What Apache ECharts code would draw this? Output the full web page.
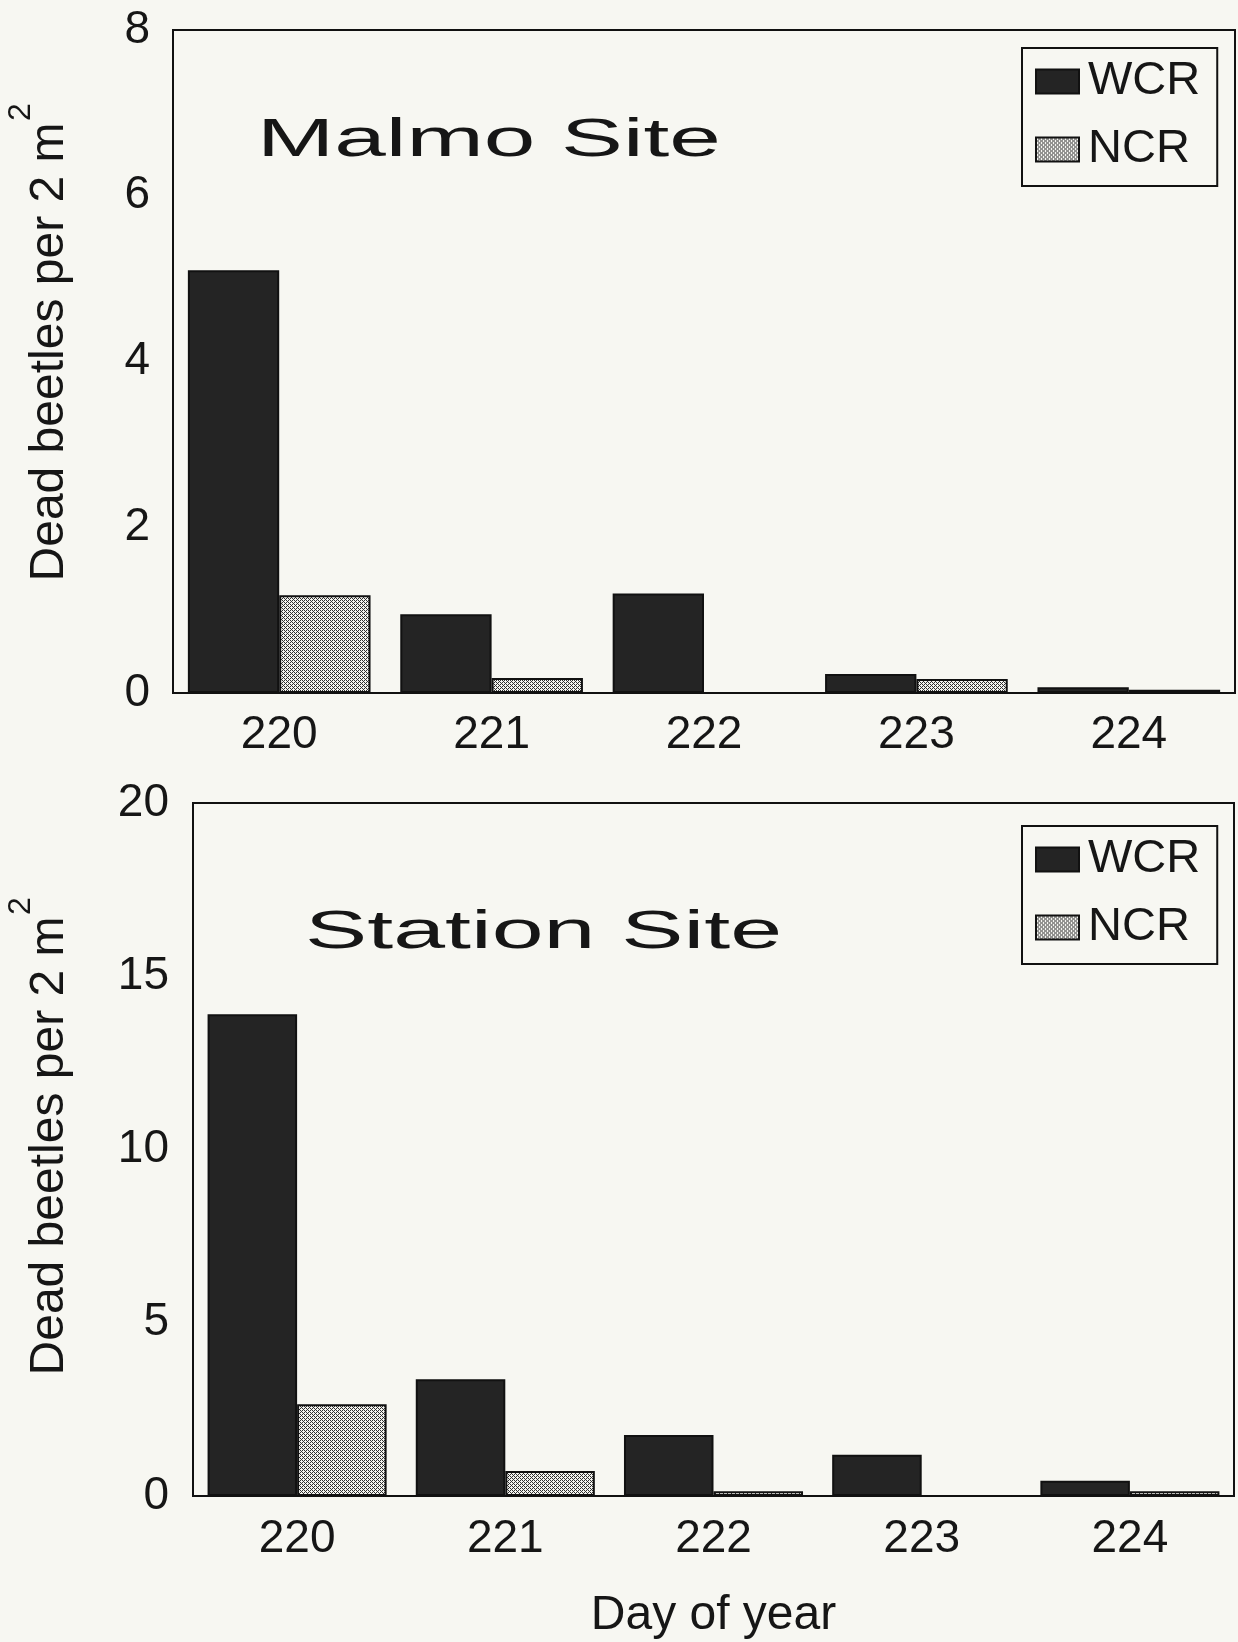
<!DOCTYPE html>
<html>
<head>
<meta charset="utf-8">
<script src="https://cdn.jsdelivr.net/npm/echarts@6/dist/echarts.min.js"></script>
<style>
html,body{margin:0;padding:0;background:#f7f7f2;}
#chart{width:1238px;height:1642px;}
</style>
</head>
<body>
<div id="chart"></div>
<script>
// ---- data ----
const days = ['220', '221', '222', '223', '224'];
const malmoWCR = [5.1, 0.95, 1.2, 0.23, 0.07];
const malmoNCR = [1.18, 0.18, 0, 0.17, 0.04];
const stationWCR = [13.9, 3.37, 1.76, 1.19, 0.44];
const stationNCR = [2.65, 0.72, 0.14, 0, 0.14];
const malmoTicks = {min: 0, max: 8, interval: 2};
const stationTicks = {min: 0, max: 20, interval: 5};
const titles = ['Malmo Site', 'Station Site'];
const yName = 'Dead beetles per 2 m';
const xName = 'Day of year';

// hatch pattern for NCR
const tile = document.createElement('canvas');
tile.width = 4; tile.height = 4;
const tctx = tile.getContext('2d');
tctx.fillStyle = '#f4f4f0';
tctx.fillRect(0, 0, 4, 4);
tctx.fillStyle = '#303030';
for (let x = 0; x < 4; x++) for (let y = 0; y < 4; y++) {
  if ((x + y) % 4 === 0 || (x - y + 4) % 4 === 2) tctx.fillRect(x, y, 1, 1);
}
const hatch = {image: tile, repeat: 'repeat'};

const FONT = '"Liberation Sans", Arial, sans-serif';
const TXT = '#161616';
const chart = echarts.init(document.getElementById('chart'), null, {renderer: 'canvas'});

const wcrStyle = {color: '#242424', borderColor: '#111', borderWidth: 2};
const ncrStyle = {color: hatch, borderColor: '#111', borderWidth: 2};

function legendAt(top) {
  return {
    left: 1022, top: top, orient: 'vertical',
    data: ['WCR', 'NCR'],
    icon: 'rect', itemWidth: 43, itemHeight: 24, itemGap: 21,
    padding: [10, 17, 13, 13],
    borderColor: '#111', borderWidth: 2, backgroundColor: '#f7f7f2',
    textStyle: {fontSize: 47, fontFamily: FONT, color: TXT, lineHeight: 46, padding: [0, 0, 0, 4]},
    selectedMode: false
  };
}

function txt(text, x, y, size, opts) {
  return Object.assign({type: 'text', x: x, y: y, z: 10,
    style: {text: text, font: size + 'px ' + FONT, fill: TXT,
      align: opts.align || 'center', verticalAlign: 'middle',
      textAlign: opts.align || 'center', textVerticalAlign: 'middle'}}, opts.t || {});
}

const option = {
  backgroundColor: '#f7f7f2',
  animation: false,
  grid: [
    {left: 173, top: 30, width: 1062, height: 663, show: true, borderColor: '#111', borderWidth: 2, backgroundColor: 'transparent'},
    {left: 193, top: 803, width: 1041, height: 693, show: true, borderColor: '#111', borderWidth: 2, backgroundColor: 'transparent'}
  ],
  legend: [legendAt(48), legendAt(826)],
  xAxis: [
    {type: 'category', gridIndex: 0, data: days,
     axisLine: {show: true, lineStyle: {color: '#111', width: 2}}, axisTick: {show: false},
     axisLabel: {fontSize: 46, fontFamily: FONT, color: TXT, margin: 19}},
    {type: 'category', gridIndex: 1, data: days,
     axisLine: {show: true, lineStyle: {color: '#111', width: 2}}, axisTick: {show: false},
     axisLabel: {fontSize: 46, fontFamily: FONT, color: TXT, margin: 20},
     name: xName, nameLocation: 'middle', nameGap: 96,
     nameTextStyle: {fontSize: 48, fontFamily: FONT, color: TXT}}
  ],
  yAxis: [
    {type: 'value', gridIndex: 0, min: malmoTicks.min, max: malmoTicks.max, interval: malmoTicks.interval,
     splitLine: {show: false}, axisTick: {show: false},
     axisLine: {show: true, lineStyle: {color: '#111', width: 2}},
     axisLabel: {fontSize: 46, fontFamily: FONT, color: TXT, margin: 23}},
    {type: 'value', gridIndex: 1, min: stationTicks.min, max: stationTicks.max, interval: stationTicks.interval,
     splitLine: {show: false}, axisTick: {show: false},
     axisLine: {show: true, lineStyle: {color: '#111', width: 2}},
     axisLabel: {fontSize: 46, fontFamily: FONT, color: TXT, margin: 24}}
  ],
  series: [
    {name: 'WCR', type: 'bar', xAxisIndex: 0, yAxisIndex: 0, data: malmoWCR, itemStyle: wcrStyle, barGap: '0%', barCategoryGap: '14%'},
    {name: 'NCR', type: 'bar', xAxisIndex: 0, yAxisIndex: 0, data: malmoNCR, itemStyle: ncrStyle, barGap: '0%', barCategoryGap: '14%'},
    {name: 'WCR', type: 'bar', xAxisIndex: 1, yAxisIndex: 1, data: stationWCR, itemStyle: wcrStyle, barGap: '0%', barCategoryGap: '14%'},
    {name: 'NCR', type: 'bar', xAxisIndex: 1, yAxisIndex: 1, data: stationNCR, itemStyle: ncrStyle, barGap: '0%', barCategoryGap: '14%'}
  ],
  graphic: [
    txt(titles[0], 257, 141, 53, {align: 'left', t: {scaleX: 1.75}}),
    txt(titles[1], 305, 933, 53, {align: 'left', t: {scaleX: 1.76}}),
    txt(yName, 50, 352, 48, {t: {rotation: Math.PI / 2}}),
    txt('2', 21, 112, 32, {t: {rotation: Math.PI / 2}}),
    txt(yName, 50, 1146, 48, {t: {rotation: Math.PI / 2}}),
    txt('2', 21, 906, 32, {t: {rotation: Math.PI / 2}})
  ]
};
chart.setOption(option);
</script>
</body>
</html>
